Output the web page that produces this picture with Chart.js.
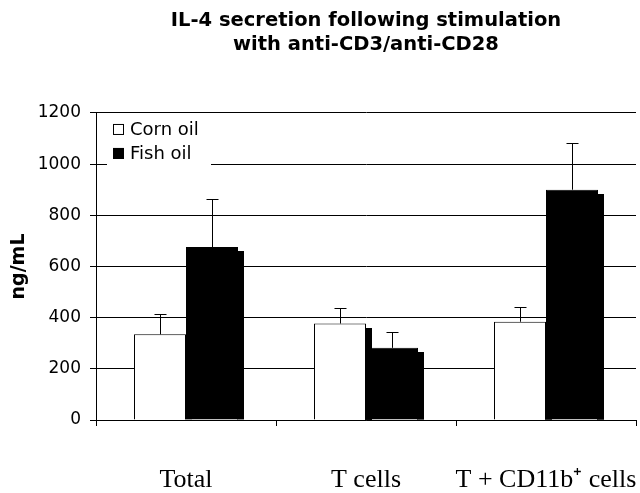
<!DOCTYPE html>
<html><head><meta charset="utf-8">
<script src="https://cdn.jsdelivr.net/npm/chart.js@4/dist/chart.umd.min.js"></script>
<style>html,body{margin:0;padding:0;background:#fff}#wrap{width:640px;height:493px}</style>
</head><body><div id="wrap"><canvas id="c" width="640" height="493"></canvas></div>
<script>
const categories = ['Total', 'T cells', 'T + CD11b\u207A cells'];
const seriesNames = ['Corn oil', 'Fish oil'];
const cornOil = [335, 377, 384];
const fishOil = [676, 282, 900];
const cornErr = [78, 61, 58];
const fishErr = [186, 60, 181];
const yTicks = [0, 200, 400, 600, 800, 1000, 1200];
const titleLines = ['IL-4 secretion following stimulation', 'with anti-CD3/anti-CD28'];
const yTitle = 'ng/mL';

const errors = [cornErr, fishErr];

// drop shadow (right-hand strip) of every bar, taken from the bar elements the library laid out
const shadowPlugin = {
  id: 'barShadow',
  beforeDatasetsDraw(chart) {
    const c = chart.ctx, a = chart.chartArea;
    c.save();
    c.beginPath(); c.rect(a.left, a.top, a.right - a.left, a.bottom - a.top); c.clip();
    c.fillStyle = '#000';
    chart.data.datasets.forEach((ds, i) => {
      chart.getDatasetMeta(i).data.forEach(el => {
        const right = Math.round(el.x + el.width / 2);
        c.fillRect(right - 1, Math.round(el.y) + 4, 7, el.base - el.y - 4);
      });
    });
    c.restore();
  }
};

const errorPlugin = {
  id: 'errorBars',
  afterDatasetsDraw(chart) {
    const c = chart.ctx, ys = chart.scales.y;
    c.save(); c.strokeStyle = '#000'; c.lineWidth = 1;
    chart.data.datasets.forEach((ds, i) => {
      const meta = chart.getDatasetMeta(i);
      meta.data.forEach((el, j) => {
        const x = Math.round(el.x) + 0.5;
        const y0 = el.y;
        const y1 = Math.round(ys.getPixelForValue(ds.data[j] + errors[i][j])) + 0.5;
        c.beginPath();
        c.moveTo(x, y0); c.lineTo(x, y1);
        c.moveTo(x - 6, y1); c.lineTo(x + 6, y1);
        c.stroke();
      });
    });
    c.restore();
  }
};

const legendPlugin = {
  id: 'insideLegend',
  afterDatasetsDraw(chart) {
    const c = chart.ctx, a = chart.chartArea;
    const x0 = a.left + 11, y0 = a.top + 2;
    c.save();
    c.fillStyle = '#fff';
    c.fillRect(x0, y0, 104, 54);
    c.font = '18px "DejaVu Sans"';
    c.textBaseline = 'alphabetic';
    c.textAlign = 'left';
    chart.data.datasets.forEach((ds, i) => {
      const by = y0 + 9 + i * 24;
      c.fillStyle = ds.backgroundColor;
      c.fillRect(x0 + 6, by, 11, 11);
      c.strokeStyle = '#000'; c.lineWidth = 1;
      c.strokeRect(x0 + 6.5, by + 0.5, 10, 10);
      c.fillStyle = '#000';
      c.fillText(ds.label, x0 + 23, by + 11);
    });
    c.restore();
  }
};

new Chart(document.getElementById('c'), {
  type: 'bar',
  data: {
    labels: categories,
    datasets: [
      { label: seriesNames[0], data: cornOil, backgroundColor: '#fff', borderColor: '#000', borderWidth: 1, borderSkipped: 'start' },
      { label: seriesNames[1], data: fishOil, backgroundColor: '#000', borderColor: '#000', borderWidth: 1, borderSkipped: 'start' }
    ]
  },
  options: {
    responsive: false,
    animation: false,
    devicePixelRatio: 1,
    layout: { padding: { left: 0, right: 4, top: 0, bottom: 0 } },
    datasets: { bar: { barPercentage: 1, categoryPercentage: 104 / 180 } },
    plugins: {
      legend: { display: false },
      tooltip: { enabled: false },
      title: {
        display: true, text: titleLines, fullSize: false, color: '#000',
        font: { family: '"DejaVu Sans"', size: 19.5, weight: 'bold', lineHeight: 1.23 },
        padding: { top: 9, bottom: 56 }
      }
    },
    scales: {
      x: {
        offset: true,
        grid: { display: true, drawOnChartArea: false, drawTicks: true, tickLength: 6, color: '#000', offset: true },
        border: { display: true, color: '#000', width: 1 },
        ticks: { color: '#000', font: { family: '"Liberation Serif"', size: 26 }, padding: 39, maxRotation: 0, autoSkip: false },
        afterFit(s) { s.height = 73; s.paddingLeft = 0; s.paddingRight = 0; }
      },
      y: {
        min: 0, max: 1200,
        afterBuildTicks(s) { s.ticks = yTicks.map(v => ({ value: v })); },
        grid: { color: '#000', lineWidth: 1, tickLength: 6 },
        border: { display: true, color: '#000', width: 1 },
        ticks: { color: '#000', font: { family: '"DejaVu Sans"', size: 17 }, padding: 9, callback: v => String(v) },
        title: { display: true, text: yTitle, color: '#000', font: { family: '"DejaVu Sans"', size: 19, weight: 'bold' }, padding: { top: 8, bottom: 0 } },
        afterFit(s) { s.width = 96; s.paddingTop = 0; s.paddingBottom = 0; }
      }
    }
  },
  plugins: [shadowPlugin, errorPlugin, legendPlugin]
});
</script>
</body></html>
